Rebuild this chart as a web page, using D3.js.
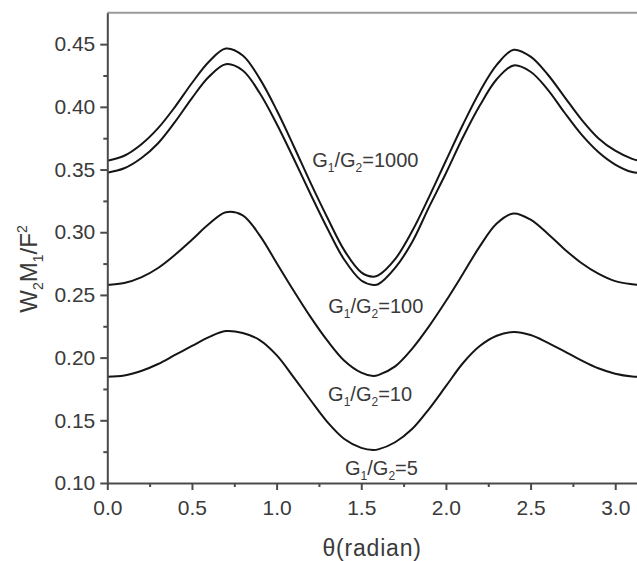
<!DOCTYPE html>
<html>
<head>
<meta charset="utf-8">
<script src="https://cdn.jsdelivr.net/npm/d3@7"></script>
<style>
  html, body { margin: 0; padding: 0; background: #fff; }
  svg { display: block; font-family: 'Liberation Sans', Arial, sans-serif; }
</style>
</head>
<body>
<div id="chart"></div>
<script>
// θ in radians, sampled along the curves
const theta = [0, 0.1, 0.2, 0.3, 0.4, 0.5, 0.6, 0.7, 0.8, 0.9, 1.0, 1.1, 1.2, 1.3, 1.4, 1.5, 1.571,
  1.6, 1.7, 1.8, 1.9, 2.0, 2.1, 2.2, 2.3, 2.4, 2.5, 2.6, 2.7, 2.8, 2.9, 3.0, 3.1, 3.1416];

// W2 M1 / F^2, one array per G1/G2 ratio
const g1000 = [0.357, 0.361, 0.370, 0.383, 0.400, 0.419, 0.436, 0.4465, 0.441, 0.4225, 0.3975, 0.369, 0.3395, 0.3115, 0.2855, 0.268, 0.2645,
  0.2655, 0.2785, 0.3007, 0.328, 0.357, 0.3857, 0.4121, 0.4334, 0.4455, 0.440, 0.426, 0.408, 0.390, 0.375, 0.365, 0.3585, 0.357];
const g100 = [0.3475, 0.351, 0.359, 0.371, 0.388, 0.407, 0.424, 0.434, 0.429, 0.411, 0.3865, 0.359, 0.3305, 0.303, 0.278, 0.2615, 0.258,
  0.2585, 0.2715, 0.292, 0.320, 0.347, 0.3755, 0.401, 0.422, 0.433, 0.428, 0.414, 0.3955, 0.378, 0.364, 0.354, 0.348, 0.3475];
const g10 = [0.258, 0.2595, 0.264, 0.2715, 0.282, 0.294, 0.3065, 0.316, 0.3135, 0.2975, 0.2755, 0.2535, 0.2325, 0.2135, 0.1975, 0.188, 0.1853,
  0.186, 0.193, 0.207, 0.2249, 0.2451, 0.2667, 0.2887, 0.307, 0.315, 0.310, 0.299, 0.2865, 0.2755, 0.267, 0.261, 0.2585, 0.258];
const g5 = [0.1848, 0.1857, 0.1893, 0.1949, 0.2021, 0.2093, 0.2164, 0.2212, 0.2196, 0.214, 0.202, 0.1845, 0.1662, 0.1486, 0.1351, 0.128, 0.1263,
  0.1268, 0.1325, 0.143, 0.159, 0.1772, 0.1955, 0.2092, 0.2174, 0.2205, 0.218, 0.212, 0.205, 0.1978, 0.1915, 0.1872, 0.185, 0.1848];

const seriesList = [g1000, g100, g10, g5];
const ratioLabels = ['1000', '100', '10', '5'];
// anchor (θ, value) of the text start / baseline of each ratio label
const labelTheta = [1.21, 1.305, 1.304, 1.404];
const labelValue = [0.352, 0.2356, 0.1654, 0.1064];

const xTicks = [0, 0.5, 1.0, 1.5, 2.0, 2.5, 3.0];
const xMinorTicks = [0.25, 0.75, 1.25, 1.75, 2.25, 2.75];
const yTicks = [0.10, 0.15, 0.20, 0.25, 0.30, 0.35, 0.40, 0.45];
const yMinorTicks = [0.125, 0.175, 0.225, 0.275, 0.325, 0.375, 0.425];

const width = 637;
const height = 561;
const axisColor = '#4a4a4a';
const textColor = '#3a3a3a';

const svg = d3.select('#chart')
  .append('svg')
  .attr('width', width)
  .attr('height', height)
  .attr('viewBox', [0, 0, width, height]);

svg.append('rect').attr('width', width).attr('height', height).attr('fill', '#fff');

// scales
const x = d3.scaleLinear().domain([0, Math.PI]).range([107.3, 639.2]);
const y = d3.scaleLinear().domain([0.1, 0.475]).range([483, 12.8]);

// top frame line
svg.append('line')
  .attr('x1', x(0)).attr('x2', x(Math.PI))
  .attr('y1', y(0.475)).attr('y2', y(0.475))
  .attr('stroke', '#9a9a9a')
  .attr('stroke-width', 2);

// curves
const line = d3.line()
  .x((d, i) => x(theta[i]))
  .y(d => y(d))
  .curve(d3.curveCatmullRom.alpha(0.5));

svg.append('g')
  .selectAll('path')
  .data(seriesList)
  .join('path')
  .attr('d', d => line(d))
  .attr('fill', 'none')
  .attr('stroke', '#151515')
  .attr('stroke-width', 2);

// minor ticks
svg.append('g')
  .attr('transform', `translate(0,${y(0.1)})`)
  .call(d3.axisBottom(x).tickValues(xMinorTicks).tickSize(4).tickSizeOuter(0).tickFormat(''))
  .call(g => g.select('.domain').remove())
  .call(g => g.selectAll('line').attr('stroke', axisColor).attr('stroke-width', 2));

svg.append('g')
  .attr('transform', `translate(${x(0)},0)`)
  .call(d3.axisLeft(y).tickValues(yMinorTicks).tickSize(4).tickSizeOuter(0).tickFormat(''))
  .call(g => g.select('.domain').remove())
  .call(g => g.selectAll('line').attr('stroke', axisColor).attr('stroke-width', 2));

// x axis
const xAxis = svg.append('g')
  .attr('transform', `translate(0,${y(0.1)})`)
  .call(d3.axisBottom(x).tickValues(xTicks).tickSize(7).tickSizeOuter(0).tickPadding(10).tickFormat(d3.format('.1f')));

// y axis
const yAxis = svg.append('g')
  .attr('transform', `translate(${x(0)},0)`)
  .call(d3.axisLeft(y).tickValues(yTicks).tickSize(7).tickSizeOuter(0).tickPadding(5).tickFormat(d3.format('.2f')));

[xAxis, yAxis].forEach(axis => {
  axis.select('.domain').attr('stroke', axisColor).attr('stroke-width', 2);
  axis.selectAll('.tick line').attr('stroke', axisColor).attr('stroke-width', 2);
  axis.selectAll('text')
    .attr('fill', textColor)
    .style('font-size', '21px')
    .style('font-family', "'Liberation Sans', Arial, sans-serif");
});

// x axis title
svg.append('text')
  .attr('x', (x(0) + width) / 2)
  .attr('y', 556)
  .attr('text-anchor', 'middle')
  .attr('fill', textColor)
  .style('font-size', '23px')
  .style('letter-spacing', '0.8px')
  .text('θ(radian)');

// y axis title: W2 M1 / F^2
const yTitle = svg.append('text')
  .attr('transform', `translate(37,${269}) rotate(-90)`)
  .attr('text-anchor', 'middle')
  .attr('fill', textColor)
  .style('font-size', '24px');
yTitle.append('tspan').text('W');
yTitle.append('tspan').attr('dy', 6).style('font-size', '14px').text('2');
yTitle.append('tspan').attr('dy', -6).text('M');
yTitle.append('tspan').attr('dy', 6).style('font-size', '14px').text('1');
yTitle.append('tspan').attr('dy', -6).text('/F');
yTitle.append('tspan').attr('dy', -10).style('font-size', '14px').text('2');

// ratio labels
ratioLabels.forEach((r, i) => {
  const t = svg.append('text')
    .attr('x', x(labelTheta[i]))
    .attr('y', y(labelValue[i]))
    .attr('fill', textColor)
    .style('font-size', '20px');
  t.append('tspan').text('G');
  t.append('tspan').attr('dy', 5).style('font-size', '12px').text('1');
  t.append('tspan').attr('dy', -5).text('/G');
  t.append('tspan').attr('dy', 5).style('font-size', '12px').text('2');
  t.append('tspan').attr('dy', -5).text('=' + r);
});
</script>
</body>
</html>
